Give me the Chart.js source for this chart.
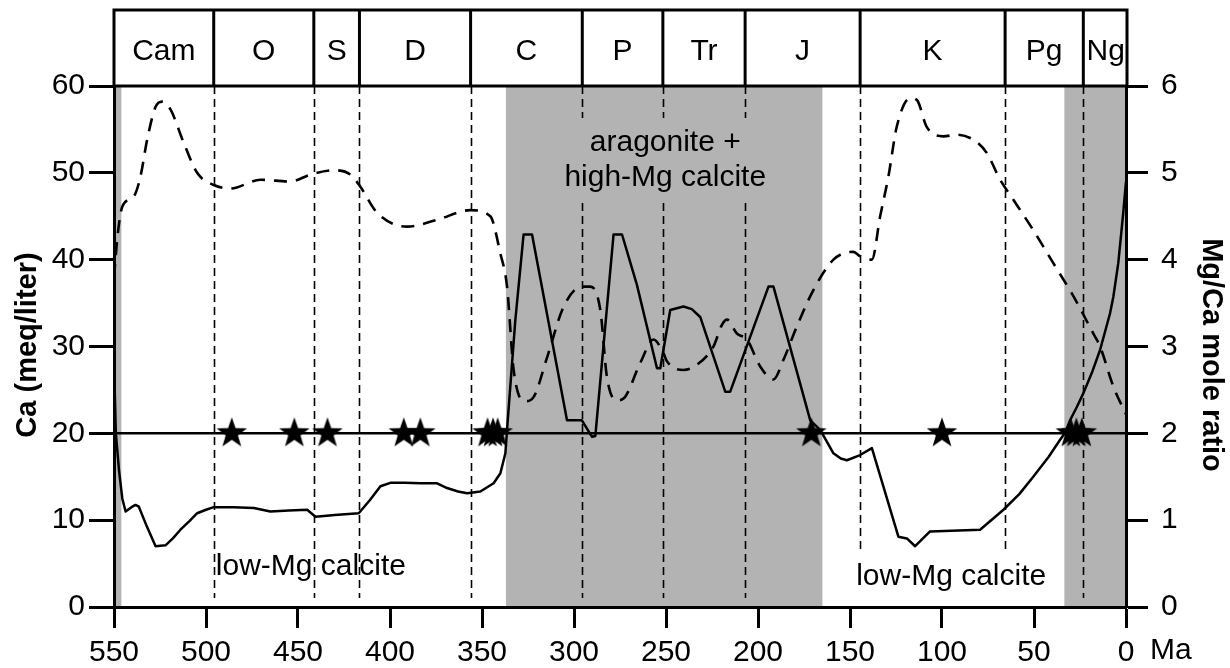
<!DOCTYPE html>
<html>
<head>
<meta charset="utf-8">
<script src="https://cdn.jsdelivr.net/npm/chart.js"></script>
<style>
  body { margin: 0; background: #fff; }
  #wrap { width: 1230px; height: 668px; position: relative; }
</style>
</head>
<body>
<div id="wrap"><canvas id="chart"></canvas></div>
<script>
// ====== Data ======
// Ca concentration, meq/liter (solid line), by age in Ma
const caAge = [550, 549.6, 549, 547.3, 545.5, 543.7, 540.5, 538.3, 536.5, 532, 527.4, 522, 518, 513.9, 509, 504.8,
  500, 495.8, 485, 474, 465, 455, 445, 440.5, 430, 417, 411, 405.2, 399.8, 392, 383.5, 374.4, 369, 363, 358.1,
  350.9, 343.7, 340, 337.3, 336.4, 331.9, 327.4, 322.8, 303.8, 295.7, 290.2, 288.4, 278.5, 273.9, 265.8, 254.9,
  253.1, 247.7, 240.5, 236, 231.4, 217.8, 215.1, 194.3, 191.6, 171.6, 166.2, 159, 155, 151.7, 144.5, 138.1,
  123.7, 119.1, 114.6, 106.5, 79.3, 66.6, 58, 50.4, 42, 36, 33, 30.4, 26.8, 23.2, 18.5, 14.1, 8.7, 6.9, 4.2, 1.5, 0];
const caVal = [38, 25, 20, 15.8, 12.5, 11.0, 11.5, 11.75, 11.55, 9.2, 7.0, 7.1, 7.9, 8.9, 9.9, 10.8,
  11.2, 11.5, 11.5, 11.4, 11.0, 11.1, 11.2, 10.4, 10.6, 10.8, 12.3, 13.9, 14.3, 14.3, 14.25, 14.25, 13.7, 13.3, 13.1,
  13.3, 14.25, 15.4, 17.7, 20.4, 33, 42.9, 42.9, 21.5, 21.5, 19.6, 19.7, 42.9, 42.9, 37.1, 27.5,
  27.5, 34.2, 34.6, 34.3, 33.4, 24.8, 24.8, 36.9, 36.9, 21.5, 20.4, 17.7, 17.1, 16.9, 17.5, 18.3,
  8.1, 7.9, 7.0, 8.7, 8.9, 11.2, 13.0, 15.0, 17.3, 19.2, 20.1, 21.5, 23.0, 24.6, 27.0, 29.6, 33.8, 35.7, 39.6, 45.4, 49];

// Mg/Ca mole ratio (dashed line)
const mgAge = [550, 549.2, 548.3, 545.5, 539.2, 535.6, 532, 527.4, 523.8, 519.3, 512, 504.8, 495.8, 486.7, 470.4,
  454.1, 443.2, 430.6, 421.5, 416.1, 407, 390.7, 374.4, 356.3, 345.5, 340, 336.4, 332.8, 326.5, 321.9, 314.7,
  305.6, 295.7, 291.1, 285.7, 282.1, 276.6, 273.1, 264, 256.8, 251.3, 249.5, 240.5, 233.2, 224.2, 219.6, 216.9,
  211.5, 206, 198.8, 191.6, 186.1, 178.9, 169.9, 159, 148.1, 144.5, 138.1, 133.6, 129.1, 124.6, 117.3, 113.7,
  108.3, 99.2, 92, 82.9, 75.7, 68.4, 61.2, 50.4, 39.5, 28.6, 17.8, 14.1, 6.9, 0];
const mgVal = [3.8, 4.0, 4.23, 4.61, 4.73, 4.96, 5.38, 5.76, 5.82, 5.73, 5.34, 5.0, 4.86, 4.82, 4.92,
  4.90, 4.98, 5.03, 4.98, 4.84, 4.54, 4.38, 4.46, 4.57, 4.50, 4.07, 3.69, 2.73, 2.37, 2.42, 2.87,
  3.46, 3.69, 3.69, 3.42, 2.65, 2.38, 2.40, 2.81, 3.08, 2.92, 2.83, 2.73, 2.79, 3.0, 3.25, 3.31,
  3.15, 3.08, 2.77, 2.62, 2.85, 3.23, 3.65, 4.0, 4.09, 4.04, 4.0, 4.50, 4.96, 5.53, 5.86, 5.84,
  5.53, 5.42, 5.44, 5.38, 5.23, 4.92, 4.69, 4.34, 3.96, 3.58, 3.15, 3.0, 2.54, 2.22];

// threshold Mg/Ca = 2 and the stars on it
const thresholdCa = 20;
const starAges = [486, 452, 434, 392.5, 383.5, 347, 344, 341.5, 171, 100, 30, 27, 24];

// aragonite + high-Mg calcite intervals (Ma)
const seaStart = [550, 337, 33.5];
const seaEnd = [546, 165, 0];

// geologic periods
const periodNames = ['Cam', 'O', 'S', 'D', 'C', 'P', 'Tr', 'J', 'K', 'Pg', 'Ng'];
const periodBounds = [550, 495.8, 441.4, 416.6, 356.2, 295.5, 251.7, 207, 144.5, 65.7, 23.2, 0];

const xTicks = [550, 500, 450, 400, 350, 300, 250, 200, 150, 100, 50, 0];

// ====== Style ======
const FONT = "'Liberation Sans', Arial, sans-serif";
const GRAY = '#b3b3b3';
Chart.defaults.font.family = FONT;
Chart.defaults.font.size = 30;
Chart.defaults.color = '#000';

// filled five-point star used as point style
function makeStar(R) {
  const c = document.createElement('canvas');
  const s = Math.ceil(R * 2 + 2);
  c.width = s; c.height = s;
  const g = c.getContext('2d');
  g.fillStyle = '#000';
  g.beginPath();
  for (let i = 0; i < 10; i++) {
    const r = i % 2 === 0 ? R : R * 0.4;
    const a = -Math.PI / 2 + i * Math.PI / 5;
    g.lineTo(s / 2 + r * Math.cos(a), s / 2 + r * Math.sin(a));
  }
  g.closePath();
  g.fill();
  return c;
}
const starImg = makeStar(16);

// ====== Overlay plugin: bands, boundaries, period strip, titles ======
const overlay = {
  id: 'overlay',
  beforeDraw(chart) {
    const { ctx, chartArea: a, scales: { x, y } } = chart;
    ctx.save();
    ctx.fillStyle = GRAY;
    seaStart.forEach((s, i) => {
      const x0 = x.getPixelForValue(s), x1 = x.getPixelForValue(seaEnd[i]);
      ctx.fillRect(x0, a.top, x1 - x0, a.bottom - a.top);
    });
    ctx.strokeStyle = '#000';
    ctx.lineWidth = 1.6;
    ctx.setLineDash([8, 5]);
    periodBounds.slice(1, -1).forEach(b => {
      const px = Math.round(x.getPixelForValue(b)) + 0.5;
      ctx.beginPath();
      ctx.moveTo(px, a.top);
      ctx.lineTo(px, a.bottom - 9);
      ctx.stroke();
    });
    ctx.setLineDash([]);

    // text in the shaded interval
    const cx = x.getPixelForValue(250.4);
    ctx.fillStyle = GRAY;
    ctx.fillRect(cx - 108, 118, 216, 84);
    ctx.fillStyle = '#000';
    ctx.font = '30px ' + FONT;
    ctx.textAlign = 'center';
    ctx.textBaseline = 'middle';
    ctx.fillText('aragonite +', cx, y.getPixelForValue(53.5));
    ctx.fillText('high-Mg calcite', cx, y.getPixelForValue(49.4));

    ctx.fillText('low-Mg calcite', x.getPixelForValue(443), y.getPixelForValue(4.6));
    const lx = x.getPixelForValue(95);
    ctx.fillStyle = '#fff';
    ctx.fillRect(lx - 98, 552, 196, 46);
    ctx.fillStyle = '#000';
    ctx.fillText('low-Mg calcite', lx, y.getPixelForValue(3.5));
    ctx.restore();
  },
  afterDraw(chart) {
    const { ctx, chartArea: a, scales: { x } } = chart;
    ctx.save();
    // period strip
    const top = 10;
    ctx.strokeStyle = '#000';
    ctx.lineWidth = 3;
    ctx.strokeRect(a.left, top, a.right - a.left + 1, a.top - top);
    ctx.font = '30px ' + FONT;
    ctx.textAlign = 'center';
    ctx.textBaseline = 'middle';
    ctx.fillStyle = '#000';
    periodNames.forEach((n, i) => {
      const x0 = x.getPixelForValue(periodBounds[i]);
      const x1 = x.getPixelForValue(periodBounds[i + 1]);
      if (i > 0) {
        ctx.beginPath();
        ctx.moveTo(x0, top);
        ctx.lineTo(x0, a.top);
        ctx.stroke();
      }
      ctx.fillText(n, (x0 + x1) / 2 + (n === 'Ng' ? 1 : 0), 52);
    });
    // x unit
    ctx.textAlign = 'left';
    ctx.fillText('Ma', a.right + 24, 651);
    // axis titles
    ctx.font = 'bold 29px ' + FONT;
    ctx.textAlign = 'center';
    ctx.save();
    ctx.translate(28, 345);
    ctx.rotate(-Math.PI / 2);
    ctx.fillText('Ca (meq/liter)', 0, 0);
    ctx.restore();
    ctx.save();
    ctx.translate(1211, 355);
    ctx.rotate(Math.PI / 2);
    ctx.fillText('Mg/Ca mole ratio', 0, 0);
    ctx.restore();
    ctx.restore();
  }
};

// ====== Chart ======
const caPoints = caAge.map((t, i) => ({ x: t, y: caVal[i] }));
const mgPoints = mgAge.map((t, i) => ({ x: t, y: mgVal[i] }));
const starPoints = starAges.map(t => ({ x: t, y: thresholdCa }));
const linePoints = [{ x: 550, y: thresholdCa }, { x: 0, y: thresholdCa }];

new Chart(document.getElementById('chart'), {
  type: 'line',
  data: {
    datasets: [
      { data: starPoints, yAxisID: 'y', showLine: false, pointStyle: starImg, pointRadius: 16, order: 0 },
      { data: caPoints, yAxisID: 'y', borderColor: '#000', borderWidth: 2.5, pointRadius: 0, tension: 0,
        borderJoinStyle: 'round', order: 1 },
      { data: mgPoints, yAxisID: 'y2', borderColor: '#000', borderWidth: 2.6, borderDash: [13, 9], pointRadius: 0,
        cubicInterpolationMode: 'monotone', order: 2 },
      { data: linePoints, yAxisID: 'y', borderColor: '#000', borderWidth: 2.5, pointRadius: 0, order: 3 }
    ]
  },
  options: {
    responsive: true,
    maintainAspectRatio: false,
    animation: false,
    events: [],
    layout: { padding: { top: 86, left: 0, right: 0, bottom: 0 } },
    plugins: { legend: { display: false }, tooltip: { enabled: false } },
    scales: {
      x: {
        type: 'linear', reverse: true, min: 0, max: 550,
        afterBuildTicks: s => { s.ticks = xTicks.map(v => ({ value: v })); },
        afterFit: s => { s.height = 61; },
        ticks: { padding: 7, color: '#000' },
        grid: { drawOnChartArea: false, tickLength: 21, tickWidth: 3, tickColor: '#000' },
        border: { color: '#000', width: 3 }
      },
      y: {
        position: 'left', min: 0, max: 60,
        ticks: { stepSize: 10, padding: 4, color: '#000' },
        afterFit: s => { s.width = 114; },
        grid: { drawOnChartArea: false, tickLength: 25, tickWidth: 3, tickColor: '#000' },
        border: { color: '#000', width: 3 }
      },
      y2: {
        position: 'right', min: 0, max: 6,
        ticks: { stepSize: 1, padding: 13, color: '#000' },
        afterFit: s => { s.width = 104; },
        grid: { drawOnChartArea: false, tickLength: 22, tickWidth: 3, tickColor: '#000' },
        border: { color: '#000', width: 3 }
      }
    }
  },
  plugins: [overlay]
});
</script>
</body>
</html>
